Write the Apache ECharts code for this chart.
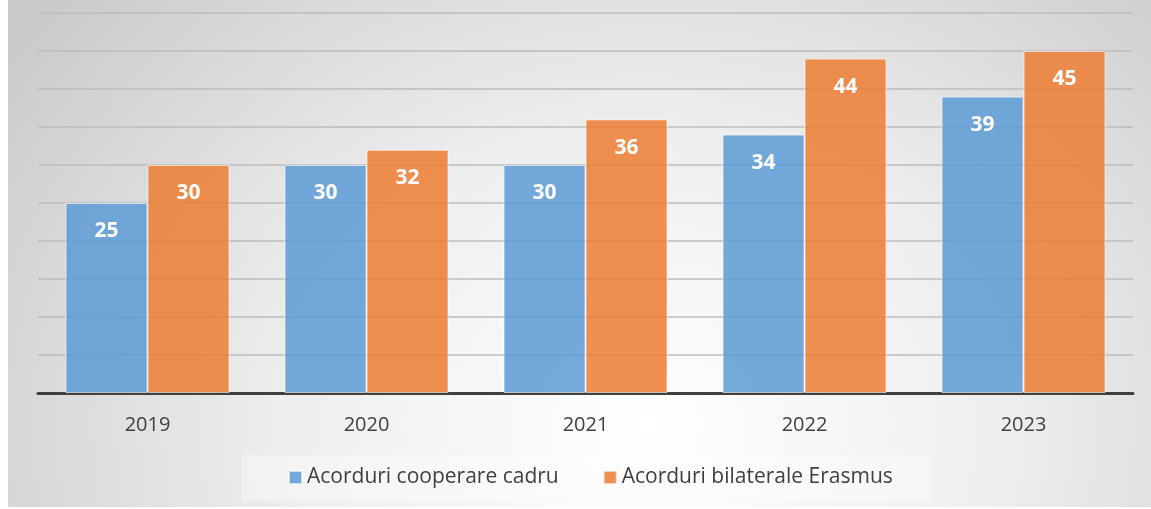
<!DOCTYPE html>
<html>
<head>
<meta charset="utf-8">
<script src="https://cdn.jsdelivr.net/npm/echarts@6/dist/echarts.min.js"></script>
<style>
  html, body { margin: 0; padding: 0; background: #ffffff; }
  #main {
    position: absolute; left: 8px; top: 0; width: 1143px; height: 507px;
    background: radial-gradient(ellipse 70% 130% at 56% 84%, #ffffff 0%, #eeeeee 45%, #c9c9c9 100%);
  }
</style>
</head>
<body>
<div id="main"></div>
<script>
var years = ['2019', '2020', '2021', '2022', '2023'];
var cadru = [25, 30, 30, 34, 39];
var erasmus = [30, 32, 36, 44, 45];

var myChart = echarts.init(document.getElementById('main'));

var labelStyle = {
  show: true,
  position: 'insideTop',
  distance: 18,
  color: '#ffffff',
  fontFamily: 'Open Sans',
  fontWeight: 'bold',
  fontSize: 21
};

var option = {
  animation: false,
  backgroundColor: 'transparent',
  textStyle: { fontFamily: 'Open Sans' },
  grid: { left: 30, right: 18, top: 13, bottom: 114 },
  legend: {
    left: 234,
    top: 455,
    padding: [12, 38, 13, 46],
    backgroundColor: 'rgba(255,255,255,0.35)',
    itemWidth: 13,
    itemHeight: 13,
    itemGap: 44,
    icon: 'rect',
    textStyle: { color: '#404040', fontSize: 21, fontFamily: 'Open Sans' },
    data: ['Acorduri cooperare cadru', 'Acorduri bilaterale Erasmus']
  },
  xAxis: {
    type: 'category',
    data: years,
    axisLine: { lineStyle: { color: '#404040', width: 3 } },
    axisTick: { show: false },
    axisLabel: { color: '#404040', fontSize: 20, margin: 22 }
  },
  yAxis: {
    type: 'value',
    min: 0,
    max: 50,
    interval: 5,
    axisLabel: { show: false },
    axisLine: { show: false },
    axisTick: { show: false },
    splitLine: { lineStyle: { color: '#bdbdbd', width: 1.5 } }
  },
  series: [
    {
      name: 'Acorduri cooperare cadru',
      type: 'bar',
      barWidth: 82,
      barGap: '0%',
      data: cadru,
      itemStyle: {
        color: 'rgba(91,155,213,0.85)',
        borderColor: 'rgba(255,255,255,0.6)',
        borderWidth: 1
      },
      label: labelStyle
    },
    {
      name: 'Acorduri bilaterale Erasmus',
      type: 'bar',
      barWidth: 82,
      data: erasmus,
      itemStyle: {
        color: 'rgba(237,125,49,0.85)',
        borderColor: 'rgba(255,255,255,0.6)',
        borderWidth: 1
      },
      label: labelStyle
    }
  ]
};
myChart.setOption(option);
</script>
</body>
</html>
